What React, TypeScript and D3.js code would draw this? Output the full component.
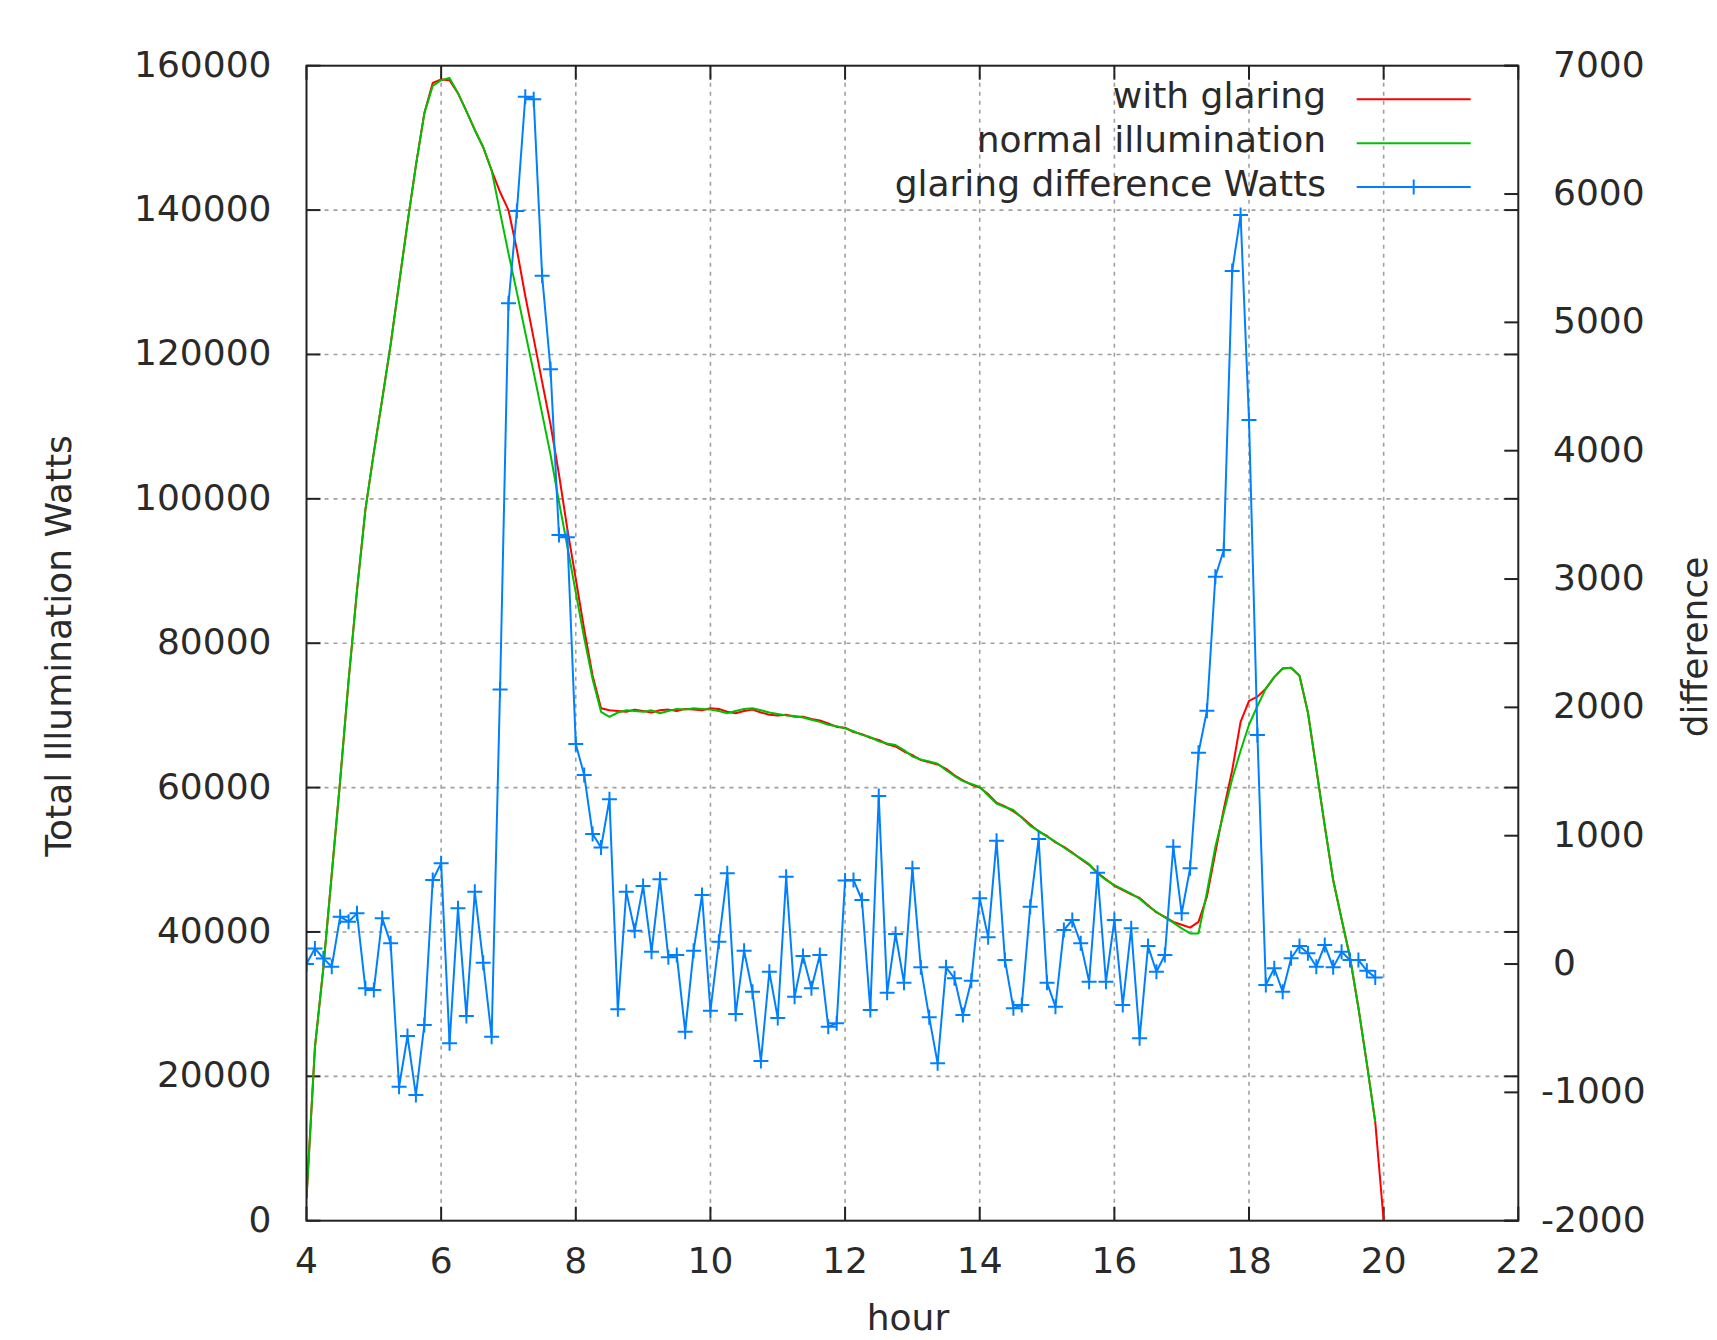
import React from "react";
import * as d3 from "d3";

// samples every 7.5 minutes starting at 4:00
const START_HOUR = 4;
const STEP = 0.125;

const withGlaring = [
  3100, 24000, 35000, 48000, 61000, 74800, 87300, 98500, 106400, 113800,
  121400, 129800, 138200, 146200, 153400, 157600, 158100, 158000, 156200, 153700,
  151100, 148700, 145500, 142500, 140000, 134500, 128100, 122200, 116200, 110300,
  103400, 95800, 88900, 81900, 75500, 71000, 70700, 70600, 70500, 70800,
  70600, 70400, 70700, 70800, 70600, 70900, 70800, 70700, 71000, 70900,
  70500, 70300, 70600, 70800, 70400, 70100, 70000, 70100, 69800, 69800,
  69500, 69300, 68900, 68400, 68300, 67700, 67400, 66900, 66600, 66000,
  65700, 65000, 64500, 63800, 63500, 63200, 62600, 61700, 61000, 60400,
  60000, 59100, 57900, 57400, 56700, 55900, 54900, 53900, 53300, 52400,
  51800, 51000, 50100, 49300, 48200, 47300, 46400, 45800, 45200, 44700,
  43700, 42700, 42100, 41400, 41000, 40600, 41400, 44900, 51000, 57000,
  62400, 69100, 72000, 72600, 73700, 75300, 76500, 76600, 75500, 70400,
  62600, 54700, 47200, 41800, 36500, 29500, 21800, 13700, 0,
];

const normalIllumination = [
  3100, 24000, 35000, 48000, 61000, 74800, 87300, 98500, 106400, 113800,
  121400, 129800, 138200, 146200, 153400, 157200, 158000, 158300, 156200, 153700,
  151100, 148700, 145500, 139700, 134000, 128600, 123000, 117500, 111800, 106100,
  99600, 93400, 87000, 80700, 75000, 70500, 69800, 70400, 70700, 70600,
  70500, 70700, 70300, 70600, 70900, 70800, 71000, 70900, 70800, 70600,
  70300, 70600, 70900, 71000, 70700, 70400, 70200, 70000, 69900, 69700,
  69400, 69100, 68700, 68500, 68200, 67800, 67300, 67000, 66400, 66100,
  65900, 65200, 64300, 63900, 63600, 63300, 62400, 61600, 60900, 60500,
  60100, 58900, 57800, 57300, 56900, 55800, 54700, 54000, 53200, 52500,
  51700, 50900, 50200, 49400, 48100, 47200, 46500, 45900, 45300, 44600,
  43600, 42800, 42000, 41300, 40500, 39800, 39800, 45500, 51800, 56500,
  61200, 65100, 68700, 71300, 73700, 75300, 76500, 76600, 75500, 70400,
  62600, 54700, 47200, 41800, 36500, 29500, 21800, 13700,
];

const glaringDifference = [
  0, 122, 44, -21, 369, 330, 395, -189, -202, 356,
  161, -956, -561, -1021, -475, 655, 785, -618, 434, -405,
  563, 10, -566, 2140, 5148, 5868, 6758, 6738, 5363, 4634,
  3343, 3325, 1714, 1473, 1013, 909, 1284, -353, 564, 260,
  608, 96, 660, 52, 70, -527, 104, 538, -364, 174,
  707, -389, 104, -216, -756, -60, -420, 680, -255, 63,
  -189, 70, -488, -462, 650, 655, 499, -358, 1309, -223,
  234, -145, 746, -26, -415, -774, -26, -111, -397, -130,
  512, 208, 960, 31, -345, -319, 447, 975, -145, -333,
  265, 343, 161, -138, 711, -138, 343, -319, 278, -579,
  140, -60, 70, 914, 395, 746, 1647, 1974, 3018, 3226,
  5400, 5836, 4239, 1785, -163, -33, -216, 45, 140, 84,
  -21, 148, -26, 96, 31, 31, -52, -104,
];

const xTicks = [4, 6, 8, 10, 12, 14, 16, 18, 20, 22];
const yTicks = [0, 20000, 40000, 60000, 80000, 100000, 120000, 140000, 160000];
const y2Ticks = [-2000, -1000, 0, 1000, 2000, 3000, 4000, 5000, 6000, 7000];

const legendItems = [
  { label: "with glaring", color: "#ff0000", marker: false },
  { label: "normal illumination", color: "#00c000", marker: false },
  { label: "glaring difference Watts", color: "#0080ff", marker: true },
];

const W = 1717;
const H = 1340;
const left = 306.5;
const right = 1518.3;
const top = 65.7;
const bottom = 1220.7;
const tickLen = 14;
const font = "'DejaVu Sans', sans-serif";
const textColor = "#2a2a2a";

const hourAt = (i: number) => START_HOUR + i * STEP;

export default function App() {
  const x = d3.scaleLinear().domain([4, 22]).range([left, right]);
  const y = d3.scaleLinear().domain([0, 160000]).range([bottom, top]);
  const y2 = d3.scaleLinear().domain([-2000, 7000]).range([bottom, top]);

  const line = d3
    .line<number>()
    .x((_, i) => x(hourAt(i)))
    .y((d) => y(d));
  const line2 = d3
    .line<number>()
    .x((_, i) => x(hourAt(i)))
    .y((d) => y2(d));

  const cross = (cx: number, cy: number, s = 7.5) =>
    `M${cx - s},${cy}H${cx + s}M${cx},${cy - s}V${cy + s}`;

  return (
    <svg
      width={W}
      height={H}
      style={{ position: "absolute", left: 0, top: 0, display: "block", background: "#fff" }}
      fontFamily={font}
    >
      <defs>
        <clipPath id="plot">
          <rect x={left} y={top - 2} width={right - left} height={bottom - top + 4} />
        </clipPath>
      </defs>

      {/* grid */}
      <g stroke="#a0a0a0" strokeWidth={1.6} strokeDasharray="4 5">
        {xTicks
          .filter((t) => t > 4 && t < 22)
          .map((t) => (
            <line key={"gx" + t} x1={x(t)} x2={x(t)} y1={bottom} y2={top} />
          ))}
        {yTicks
          .filter((t) => t > 0 && t < 160000)
          .map((t) => (
            <line key={"gy" + t} x1={left} x2={right} y1={y(t)} y2={y(t)} />
          ))}
      </g>

      {/* ticks */}
      <g stroke="#222" strokeWidth={2}>
        {xTicks.map((t) => (
          <g key={"tx" + t}>
            <line x1={x(t)} x2={x(t)} y1={bottom} y2={bottom - tickLen} />
            <line x1={x(t)} x2={x(t)} y1={top} y2={top + tickLen} />
          </g>
        ))}
        {yTicks.map((t) => (
          <g key={"ty" + t}>
            <line x1={left} x2={left + tickLen} y1={y(t)} y2={y(t)} />
            <line x1={right} x2={right - tickLen} y1={y(t)} y2={y(t)} />
          </g>
        ))}
        {y2Ticks.map((t) => (
          <line key={"ty2" + t} x1={right} x2={right - tickLen} y1={y2(t)} y2={y2(t)} />
        ))}
      </g>

      {/* series */}
      <g clipPath="url(#plot)" fill="none" strokeWidth={2} strokeLinejoin="round">
        <path d={line(withGlaring) || ""} stroke="#ff0000" />
        <path d={line(normalIllumination) || ""} stroke="#00c000" />
        <path d={line2(glaringDifference) || ""} stroke="#0080ff" />
        <path
          d={glaringDifference.map((d, i) => cross(x(hourAt(i)), y2(d))).join("")}
          stroke="#0080ff"
        />
      </g>

      {/* border */}
      <rect
        x={left}
        y={top}
        width={right - left}
        height={bottom - top}
        fill="none"
        stroke="#222"
        strokeWidth={2}
      />

      {/* tick labels */}
      <g fontSize={36} fill={textColor}>
        {xTicks.map((t) => (
          <text key={"lx" + t} x={x(t)} y={bottom + 52} textAnchor="middle">
            {t}
          </text>
        ))}
        {yTicks.map((t) => (
          <text key={"ly" + t} x={271.5} y={y(t) + 11} textAnchor="end">
            {t}
          </text>
        ))}
        {y2Ticks.map((t) => (
          <text key={"ly2" + t} x={t < 0 ? 1541 : 1553} y={y2(t) + 11} textAnchor="start">
            {t}
          </text>
        ))}
      </g>

      {/* axis titles */}
      <g fontSize={36} fill={textColor}>
        <text x={908} y={1330} textAnchor="middle">
          hour
        </text>
        <text transform="translate(71,646) rotate(-90)" textAnchor="middle">
          Total Illumination Watts
        </text>
        <text transform="translate(1707,647) rotate(-90)" textAnchor="middle">
          difference
        </text>
      </g>

      {/* legend */}
      <g fontSize={36} fill={textColor}>
        {legendItems.map((item, i) => {
          const base = 108.3 + i * 43.9;
          const ly = base - 9;
          return (
            <g key={item.label}>
              <text x={1326} y={base} textAnchor="end">
                {item.label}
              </text>
              <line x1={1356.7} x2={1470.7} y1={ly} y2={ly} stroke={item.color} strokeWidth={2} />
              {item.marker && (
                <path d={cross(1413.7, ly)} stroke={item.color} strokeWidth={2} fill="none" />
              )}
            </g>
          );
        })}
      </g>
    </svg>
  );
}
